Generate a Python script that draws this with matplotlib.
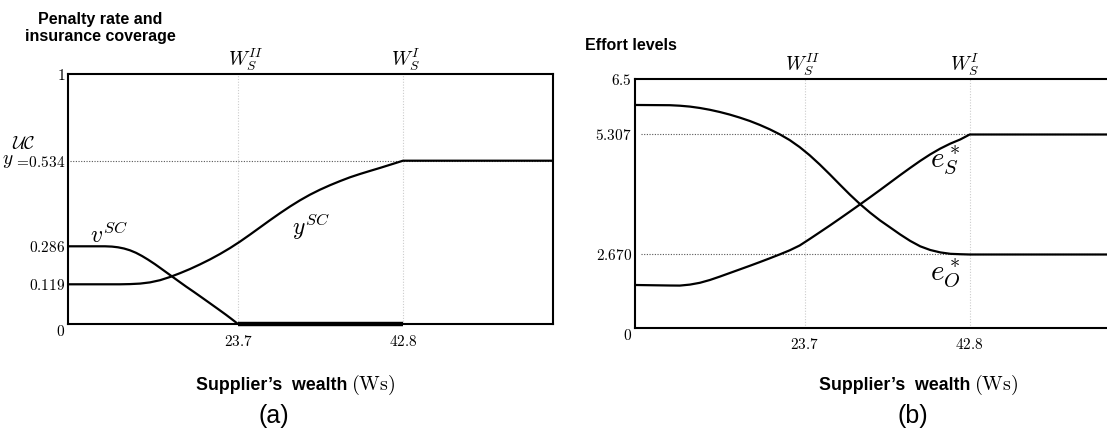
import numpy as np
import matplotlib
matplotlib.use('agg')
import matplotlib.pyplot as plt
from matplotlib.transforms import blended_transform_factory

plt.rcParams['mathtext.fontset'] = 'cm'
plt.rcParams['font.family'] = ['Liberation Sans', 'DejaVu Sans']

# ---- data ----
# (a) penalty rate v^SC and insurance coverage y^SC vs supplier's wealth
ws_v = [0, 5.16, 6.13, 6.97, 7.81, 8.64, 9.48, 10.32, 11.15, 12.13, 13.10,
        14.22, 15.34, 16.45, 17.57, 18.68, 19.80, 20.91, 22.03, 22.86, 23.7, 42.8]
v_sc = [0.286, 0.286, 0.2847, 0.2816, 0.2763, 0.2684, 0.2574, 0.2434, 0.2276,
        0.2073, 0.1854, 0.1599, 0.1344, 0.1124, 0.0959, 0.0791, 0.0620, 0.0450,
        0.0276, 0.0141, 0.0, 0.0]

ws_y = [0, 7.25, 8.64, 10.04, 11.43, 12.83, 14.22, 15.61, 17.01, 18.40, 19.80,
        21.19, 22.58, 23.93, 25.09, 26.25, 27.40, 28.56, 29.72, 30.88, 32.03,
        33.19, 34.35, 35.51, 36.66, 37.82, 38.98, 40.14, 41.29, 42.8, 60]
y_sc = [0.119, 0.119, 0.1199, 0.1221, 0.1274, 0.1370, 0.1511, 0.1678, 0.1862,
        0.2065, 0.2284, 0.2522, 0.2781, 0.2996, 0.3199, 0.3408, 0.3616, 0.3819,
        0.4013, 0.4193, 0.4355, 0.4500, 0.4630, 0.4749, 0.4859, 0.4955, 0.5044,
        0.5131, 0.5221, 0.534, 0.534]

# (b) effort levels e_O* and e_S*
ws_b = [0, 4.91, 6.30, 7.70, 9.09, 10.48, 11.87, 13.26, 14.65, 16.05, 17.44,
        18.83, 20.22, 21.61, 23.00, 24.28, 25.44, 26.61, 27.77, 28.93, 30.09,
        31.26, 32.42, 33.58, 34.74, 35.91, 37.07, 38.23, 39.39, 40.56, 41.72,
        42.8, 60]
e_o = [5.945, 5.940, 5.929, 5.910, 5.880, 5.841, 5.793, 5.737, 5.672, 5.599,
       5.514, 5.419, 5.311, 5.184, 5.030, 4.850, 4.648, 4.430, 4.206, 3.986,
       3.780, 3.591, 3.419, 3.266, 3.112, 2.969, 2.850, 2.769, 2.716, 2.685,
       2.676, 2.670, 2.670]
e_s = [1.558, 1.539, 1.536, 1.572, 1.638, 1.740, 1.864, 1.995, 2.126, 2.258,
       2.393, 2.531, 2.672, 2.762, 2.868, 3.011, 3.158, 3.307, 3.459, 3.613,
       3.769, 3.927, 4.087, 4.250, 4.413, 4.573, 4.727, 4.870, 4.997, 5.107,
       5.199, 5.307, 5.307]

# thresholds and tick values
w_thresh = [23.7, 42.8]
w_names = [r'$W_S^{II}$', r'$W_S^{I}$']
a_yticks = [0, 0.119, 0.286, 0.534, 1]
a_ylabels = ['$0$', '$0.119$', '$0.286$', r'$=\!0.534$', '$1$']
b_yticks = [0, 2.670, 5.307, 6.5]
b_ylabels = ['$0$', '$2.670$', '$5.307$', r'$\mathbf{6.5}$']

# the original axes are schematic: tick values sit at uneven spacings
x_anchor = ([0, 23.7, 42.8, 60], [0, 0.3503, 0.6903, 1.0])
a_anchor = ([0, 0.119, 0.286, 0.534, 1], [0, 0.1588, 0.3108, 0.6532, 1.0])
b_anchor = ([0, 2.670, 5.307, 6.5], [0, 0.2947, 0.7778, 1.0])


def anchored(vals, fracs):
    vals = np.asarray(vals, float)
    fracs = np.asarray(fracs, float)
    return (lambda v: np.interp(v, vals, fracs),
            lambda f: np.interp(f, fracs, vals))


W, H = 1107, 432
fig = plt.figure(figsize=(W / 100, H / 100), dpi=100)
ax1 = fig.add_axes([68 / W, 1 - 324 / H, 485.3 / W, 250 / H])
ax2 = fig.add_axes([634.7 / W, 1 - 327.7 / H, 485.3 / W, 248.4 / H])

dots_light = dict(color='#cccccc', lw=0.8, ls=(0, (1, 1.5)), zorder=0)
dots_dark = dict(color='#555555', lw=0.8, ls=(0, (1, 1.4)), zorder=0)

for ax, yanch, ylim, shifts in [(ax1, a_anchor, (0, 1), (8, 3)),
                                (ax2, b_anchor, (0, 6.5), (-2, -5))]:
    ax.set_xscale('function', functions=anchored(*x_anchor))
    ax.set_yscale('function', functions=anchored(*yanch))
    ax.set_xlim(0, 60)
    ax.set_ylim(*ylim)
    for s in ax.spines.values():
        s.set_linewidth(1.5)
    ax.tick_params(length=0, labelsize=11)
    ax.tick_params(axis='y', pad=2)
    ax.tick_params(axis='x', pad=7)
    ax.set_xticks(w_thresh)
    ax.set_xticklabels(['$%s$' % t for t in w_thresh])
    for xv in w_thresh:
        ax.axvline(xv, **dots_light)
    tr = blended_transform_factory(ax.transData, ax.transAxes)
    for xv, nm, dx in zip(w_thresh, w_names, shifts):
        ax.annotate(nm, (xv, 1.0), xycoords=tr, xytext=(dx * 0.72, 1),
                    textcoords='offset points', ha='center', va='bottom',
                    fontsize=14)

# ---- panel (a) ----
ax1.set_yticks(a_yticks)
ax1.set_yticklabels(a_ylabels)
ax1.get_yticklabels()[0].set_verticalalignment('top')
ax1.axhline(0.534, xmin=0.005, **dots_dark)
ax1.plot(ws_v, v_sc, color='black', lw=1.6)
ax1.plot(ws_v[-2:], v_sc[-2:], color='black', lw=3.2, clip_on=False,
         solid_capstyle='butt')
ax1.plot(ws_y, y_sc, color='black', lw=1.6)
ax1.text(0.0453, 0.324, r'$v^{SC}$', transform=ax1.transAxes, fontsize=17,
         ha='left', va='baseline')
ax1.text(0.4616, 0.356, r'$y^{SC}$', transform=ax1.transAxes, fontsize=17,
         ha='left', va='baseline')
# the "y" and its calligraphic "UC" in front of the 0.534 tick
fig.text(2 / W, 1 - 164 / H, r'$y$', fontsize=14, ha='left', va='baseline')
fig.text(12 / W, 1 - 153 / H, r'$\mathcal{UC}$', fontsize=13, ha='left',
         va='bottom')

# ---- panel (b) ----
ax2.set_yticks(b_yticks)
ax2.set_yticklabels(b_ylabels)
ax2.get_yticklabels()[0].set_verticalalignment('top')
for yv in b_yticks[1:3]:
    ax2.axhline(yv, xmin=0.012, **dots_dark)
ax2.plot(ws_b, e_o, color='black', lw=1.6)
ax2.plot(ws_b, e_s, color='black', lw=1.6)
ax2.text(0.6085, 0.647, r'$e^*_S$', transform=ax2.transAxes, fontsize=21,
         ha='left', va='baseline')
ax2.text(0.6085, 0.192, r'$e^*_O$', transform=ax2.transAxes, fontsize=21,
         ha='left', va='baseline')

# ---- titles and captions ----
fig.text(100 / W, 1 - 28 / H, 'Penalty rate and\ninsurance coverage',
         ha='center', va='center', fontweight='bold', fontsize=11.5,
         linespacing=1.1)
fig.text(585 / W, 1 - 46 / H, 'Effort levels', ha='left', va='center',
         fontweight='bold', fontsize=11.5)
for xb in [347, 970]:
    fig.text(xb / W, 1 - 385 / H, 'Supplier\u2019s  wealth', ha='right',
             va='center', fontweight='bold', fontsize=12.8)
    fig.text((xb + 4) / W, 1 - 385 / H, r'$(\mathrm{Ws})$', ha='left',
             va='center', fontsize=14.5)
for xc, lab in [(274, '(a)'), (913, '(b)')]:
    fig.text(xc / W, 1 - 416 / H, lab, ha='center', va='center', fontsize=18)

fig.savefig('out.png', dpi=100)
